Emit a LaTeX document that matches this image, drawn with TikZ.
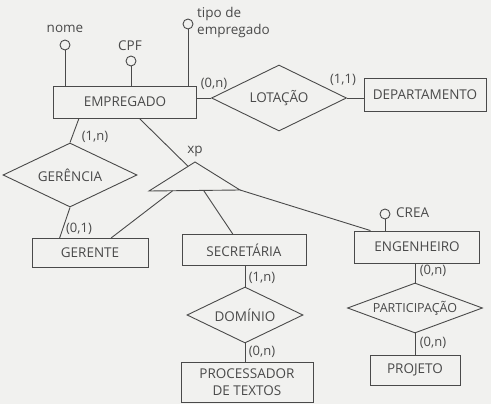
\documentclass[tikz,border=0pt]{standalone}
\usepackage{fontspec}
\setmainfont{Open Sans}
\usetikzlibrary{shapes.geometric,calc}
\definecolor{ink}{HTML}{4A4A4A}
\definecolor{paper}{HTML}{F1F1EF}
\begin{document}
\begin{tikzpicture}[x=1pt,y=-1pt,
  every node/.style={text=ink,font=\fontsize{13.5}{17}\selectfont},
  ent/.style={draw=ink,line width=0.9pt,inner sep=0pt},
  rel/.style={draw=ink,line width=0.9pt,diamond,inner sep=0pt,aspect=2},
  attr/.style={draw=ink,line width=0.9pt,circle,inner sep=0pt,minimum size=10pt},
  card/.style={font=\fontsize{13}{15}\selectfont,inner sep=0pt},
  conn/.style={draw=ink,line width=0.9pt}]
\fill[paper] (0,0) rectangle (491,404);
\useasboundingbox (0,0) rectangle (491,404);
% entities
\node[ent,minimum width=143pt,minimum height=32pt] (emp) at (125,102) {EMPREGADO};
\node[ent,minimum width=122pt,minimum height=33pt] (dep) at (425,95) {DEPARTAMENTO};
\node[ent,minimum width=116pt,minimum height=29pt] (ger) at (90,253) {GERENTE};
\node[ent,minimum width=124pt,minimum height=31pt] (sec) at (244,250) {SECRETÁRIA};
\node[ent,minimum width=132pt,minimum height=40pt,align=center] (proc) at (247,382) {PROCESSADOR\\DE TEXTOS};
\node[ent,minimum width=125pt,minimum height=32pt] (eng) at (417,247) {ENGENHEIRO};
\node[ent,minimum width=90pt,minimum height=30pt] (proj) at (415,370) {PROJETO};
% relationships
\node[rel,minimum width=135pt,minimum height=66pt] (lot) at (279,98) {LOTAÇÃO};
\node[rel,minimum width=134pt,minimum height=64pt] (gerd) at (70,175) {GERÊNCIA};
\node[rel,minimum width=116pt,minimum height=56pt] (dom) at (245,315) {DOMÍNIO};
\node[rel,minimum width=135pt,minimum height=50pt,aspect=2.7,font=\fontsize{12.5}{15}\selectfont] (part) at (415,308) {PARTICIPAÇÃO};
% attributes
\node[attr] (nomec) at (65,45) {};
\node[attr] (cpfc) at (131,61) {};
\node[attr] (tipoc) at (188,24) {};
\node[attr] (creac) at (385,214) {};
\node (nomel) at (65,29) {nome};
\node (cpfl) at (130,46) {CPF};
\node[anchor=west,align=left,inner sep=0pt] (tipol) at (197,22) {tipo de\\empregado};
\node[anchor=west,inner sep=0pt] (creal) at (396,213) {CREA};
\draw[conn] (nomec) -- (nomec |- emp.north);
\draw[conn] (cpfc) -- (cpfc |- emp.north);
\draw[conn] (tipoc) -- (tipoc |- emp.north);
\draw[conn] (creac) -- (creac |- eng.north);
% specialization triangle
\coordinate (xpA) at (195,162);
\coordinate (xpL) at (149,191);
\coordinate (xpR) at (240,190);
\draw[conn,line join=miter] (xpA) -- (xpL) -- (xpR) -- cycle;
\node[inner sep=0pt] (xpl) at (195,151) {xp};
% connectors
\draw[conn] (lot.west) -- (lot.west -| emp.east);
\draw[conn] (lot.east) -- (lot.east -| dep.west);
\draw[conn] ($(emp.south west)!0.18!(emp.south east)$) -- (gerd.north);
\draw[conn] (gerd.south) -- ($(ger.north west)!0.24!(ger.north east)$);
\draw[conn] ($(emp.south west)!0.6!(emp.south east)$) -- ($(xpA)!0.15!(xpL)$);
\draw[conn] ($(xpL)!0.26!(xpR)$) -- ($(ger.north west)!0.68!(ger.north east)$);
\draw[conn] ($(xpL)!0.6!(xpR)$) -- ($(sec.north west)!0.41!(sec.north east)$);
\draw[conn] (xpR) -- ($(eng.north west)!0.13!(eng.north east)$);
\draw[conn] (dom.north) -- (dom.north |- sec.south);
\draw[conn] (dom.south) -- (dom.south |- proc.north);
\draw[conn] (part.north) -- (part.north |- eng.south);
\draw[conn] (part.south) -- (part.south |- proj.north);
% cardinalities
\node[card] (c1) at (214,84) {(0,n)};
\node[card] (c2) at (343,80) {(1,1)};
\node[card] (c3) at (95,137) {(1,n)};
\node[card] (c4) at (79,229) {(0,1)};
\node[card] (c5) at (262,278) {(1,n)};
\node[card] (c6) at (262,352) {(0,n)};
\node[card] (c7) at (433,271) {(0,n)};
\node[card] (c8) at (433,343) {(0,n)};
\end{tikzpicture}
\end{document}
